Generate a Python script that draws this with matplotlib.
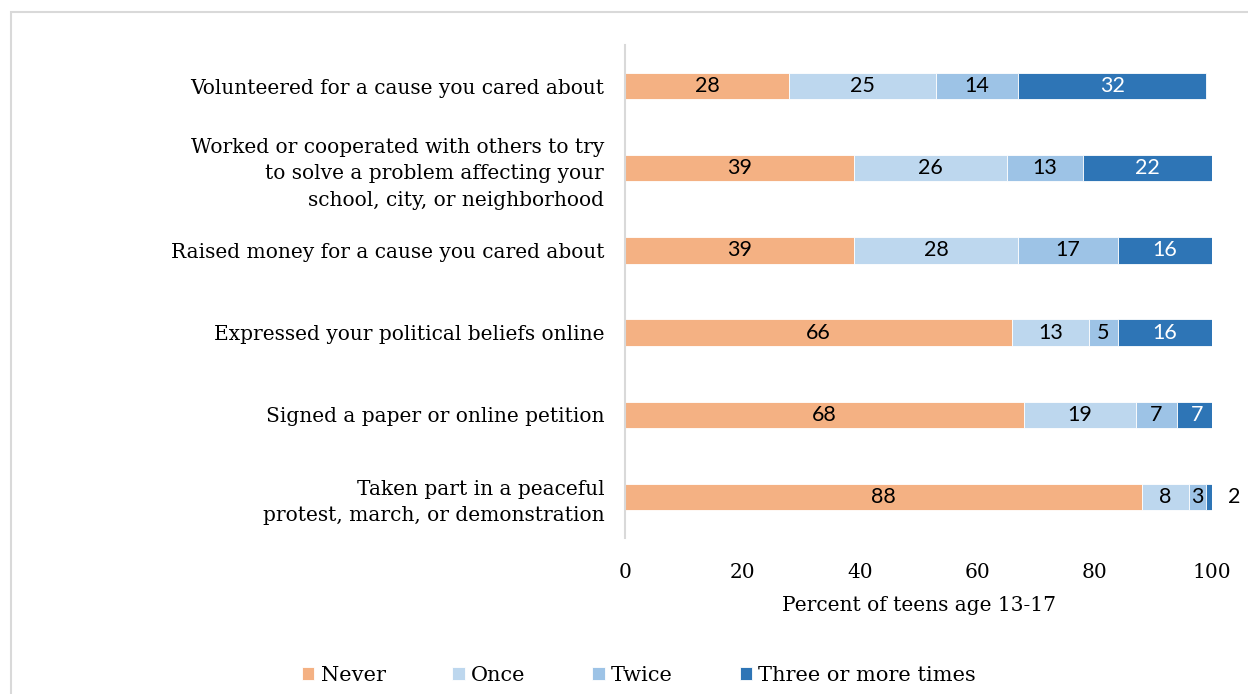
import numpy as np
import matplotlib.pyplot as plt
from matplotlib.patches import Rectangle

activities = [
    'Volunteered for a cause you cared about',
    'Worked or cooperated with others to try\nto solve a problem affecting your\nschool, city, or neighborhood',
    'Raised money for a cause you cared about',
    'Expressed your political beliefs online',
    'Signed a paper or online petition',
    'Taken part in a peaceful\nprotest, march, or demonstration',
]
never = [28, 39, 39, 66, 68, 88]
once = [25, 26, 28, 13, 19, 8]
twice = [14, 13, 17, 5, 7, 3]
three_plus = [32, 22, 16, 16, 7, 2]

series = ['Never', 'Once', 'Twice', 'Three or more times']
colors = ['#F4B183', '#BDD7EE', '#9DC3E6', '#2E75B6']
label_colors = ['black', 'black', 'black', 'white']

serif = 'DejaVu Serif'
sans = 'Lato'

fig = plt.figure(figsize=(12.48, 6.94), dpi=100)
ax = fig.add_axes([0.5008, 0.2248, 0.4704, 0.7104])

y = np.arange(len(activities))
left = np.zeros(len(activities))
for name, vals, c, tc in zip(series, [never, once, twice, three_plus], colors, label_colors):
    vals = np.array(vals, dtype=float)
    ax.barh(y, vals, left=left, height=0.32, color=c, label=name,
            edgecolor='white', linewidth=0.6)
    for yi, l, v in zip(y, left, vals):
        if v >= 3:
            ax.text(l + v / 2, yi, f'{int(v)}', ha='center', va='center',
                    fontsize=15.5, color=tc, family=sans)
        else:
            # too thin for an inside label
            ax.text(l + v + 1.8, yi, f'{int(v)}', ha='left', va='center',
                    fontsize=15.5, color='black', family=sans)
    left += vals

ax.set_ylim(len(activities) - 0.5, -0.5)
ax.set_xlim(0, 100)
ax.set_xticks(range(0, 101, 20))
ax.set_xticklabels([str(t) for t in range(0, 101, 20)], family=serif, fontsize=14.5)
ax.set_yticks(y)
ax.set_yticklabels(activities, family=serif, fontsize=14.5, linespacing=1.5)
ax.tick_params(axis='both', length=0)
ax.tick_params(axis='y', pad=15)
ax.tick_params(axis='x', pad=18)
for s in ['top', 'right', 'bottom']:
    ax.spines[s].set_visible(False)
ax.spines['left'].set_color('#D9D9D9')
ax.spines['left'].set_linewidth(1.5)

ax.set_xlabel('Percent of teens age 13-17', family=serif, fontsize=14.5, labelpad=10)

fig.legend(loc='center', bbox_to_anchor=(0.512, 0.027), ncol=4, frameon=False,
           prop={'family': serif, 'size': 15}, handlelength=0.6, handleheight=0.6,
           handletextpad=0.3, columnspacing=3.2)

# light border around the chart area
fig.add_artist(Rectangle((11 / 1248, -0.1), 1.2, 1.1 - 12 / 694,
                         transform=fig.transFigure, fill=False,
                         edgecolor='#D9D9D9', linewidth=1.5))

fig.savefig('out.png', dpi=100)
